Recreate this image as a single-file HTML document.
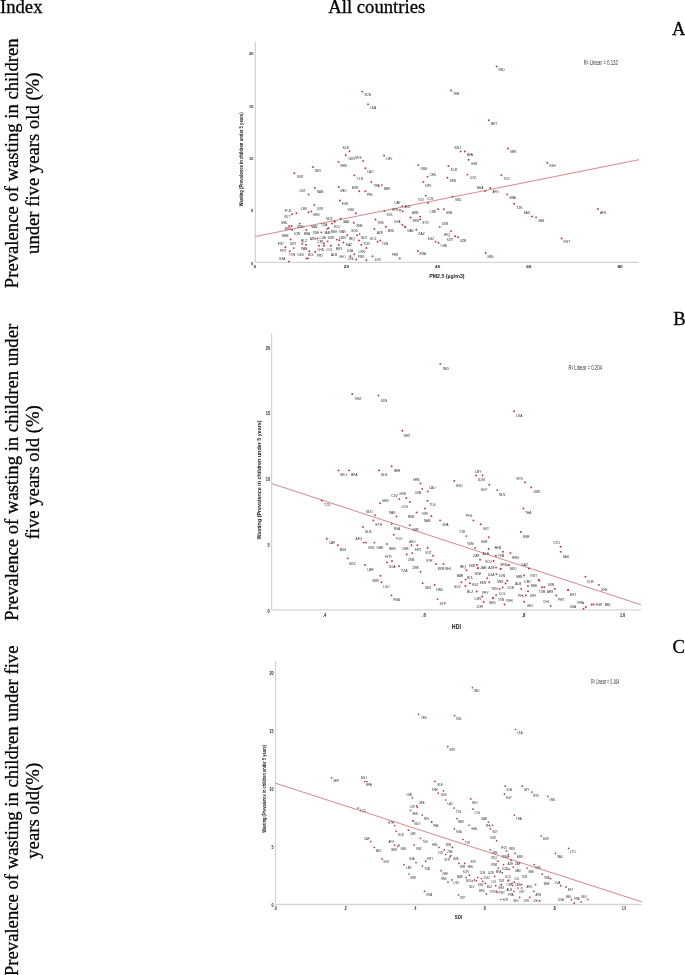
<!DOCTYPE html>
<html><head><meta charset="utf-8"><title>Figure</title>
<style>
html,body{margin:0;padding:0;background:#fff;}
body{width:685px;height:975px;position:relative;overflow:hidden;font-family:"Liberation Serif",serif;}
svg text{font-kerning:normal;}
.serif{font-family:"Liberation Serif",serif;}
.sans{font-family:"Liberation Sans",sans-serif;}
</style></head><body>
<svg width="685" height="975" viewBox="0 0 685 975" style="position:absolute;left:0;top:0;will-change:transform">
<g class="serif" font-size="18.67" fill="#000" stroke="#000" stroke-width="0.28">
<text x="0" y="12.7">Index</text>
<text x="328.3" y="12.7">All countries</text>
<text x="672" y="34.6">A</text>
<text x="673.2" y="324.9">B</text>
<text x="672.6" y="653.3">C</text>
<text x="17.9" y="163.3" text-anchor="middle" transform="rotate(-90 17.9 163.3)">Prevalence of wasting in children</text>
<text x="39.4" y="163.3" text-anchor="middle" transform="rotate(-90 39.4 163.3)">under five years old (%)</text>
<text x="17.9" y="472.3" text-anchor="middle" transform="rotate(-90 17.9 472.3)">Prevalence of wasting in children under</text>
<text x="39.4" y="472.3" text-anchor="middle" transform="rotate(-90 39.4 472.3)">five years old (%)</text>
<text x="17.9" y="810.8" text-anchor="middle" transform="rotate(-90 17.9 810.8)">Prevalence of wasting in children under five</text>
<text x="39.4" y="810.8" text-anchor="middle" transform="rotate(-90 39.4 810.8)">years old(%)</text>
</g>
<g>
<line x1="255.3" y1="41.8" x2="255.3" y2="263.1" stroke="#d4d4d4" stroke-width="1.3"/>
<line x1="254.65" y1="262.3" x2="639" y2="262.3" stroke="#d4d4d4" stroke-width="1.3"/>
</g>
<g>
<line x1="271.6" y1="333" x2="271.6" y2="610.7" stroke="#d4d4d4" stroke-width="1.3"/>
<line x1="270.95" y1="609.9" x2="641" y2="609.9" stroke="#d4d4d4" stroke-width="1.3"/>
</g>
<g>
<line x1="275.5" y1="661" x2="275.5" y2="905.3" stroke="#d4d4d4" stroke-width="1.3"/>
<line x1="274.85" y1="904.5" x2="641.6" y2="904.5" stroke="#d4d4d4" stroke-width="1.3"/>
</g>
<g stroke="#d07a7e" stroke-width="0.9" fill="none">
<line x1="255.3" y1="236.5" x2="639" y2="159.7"/>
<line x1="271.6" y1="483.5" x2="641" y2="604.8"/>
<line x1="275.4" y1="783.2" x2="641.6" y2="901.8"/>
</g>
<g class="sans" font-size="4.2" fill="#262626">
<text transform="translate(364.5 96.38) scale(1 0.85)" textLength="6.3" lengthAdjust="spacingAndGlyphs">SDN</text>
<text transform="translate(370 109.08) scale(1 0.85)" textLength="6.3" lengthAdjust="spacingAndGlyphs">LKA</text>
<text transform="translate(453 95.28) scale(1 0.85)" textLength="6.3" lengthAdjust="spacingAndGlyphs">YEM</text>
<text transform="translate(498.5 70.98) scale(1 0.85)" textLength="6.3" lengthAdjust="spacingAndGlyphs">IND</text>
<text transform="translate(490.8 125.08) scale(1 0.85)" textLength="6.3" lengthAdjust="spacingAndGlyphs">MRT</text>
<text transform="translate(510.2 153.18) scale(1 0.85)" textLength="6.3" lengthAdjust="spacingAndGlyphs">NER</text>
<text transform="translate(454.6 148.97) scale(1 0.85)" textLength="6.3" lengthAdjust="spacingAndGlyphs">MLI</text>
<text transform="translate(466.8 156.18) scale(1 0.85)" textLength="6.3" lengthAdjust="spacingAndGlyphs">BFA</text>
<text transform="translate(342.6 149.28) scale(1 0.85)" textLength="6.3" lengthAdjust="spacingAndGlyphs">SLE</text>
<text transform="translate(348.4 160.28) scale(1 0.85)" textLength="6.3" lengthAdjust="spacingAndGlyphs">GIN</text>
<text transform="translate(340.4 166.58) scale(1 0.85)" textLength="6.3" lengthAdjust="spacingAndGlyphs">KHM</text>
<text transform="translate(314.9 171.97) scale(1 0.85)" textLength="6.3" lengthAdjust="spacingAndGlyphs">MDV</text>
<text transform="translate(297 178.08) scale(1 0.85)" textLength="6.3" lengthAdjust="spacingAndGlyphs">SUR</text>
<text transform="translate(356.7 180.28) scale(1 0.85)" textLength="6.3" lengthAdjust="spacingAndGlyphs">TLS</text>
<text transform="translate(317 192.68) scale(1 0.85)" textLength="6.3" lengthAdjust="spacingAndGlyphs">NAM</text>
<text transform="translate(299.5 192.28) scale(1 0.85)" textLength="6.3" lengthAdjust="spacingAndGlyphs">GUY</text>
<text transform="translate(340.4 191.97) scale(1 0.85)" textLength="6.3" lengthAdjust="spacingAndGlyphs">MEO</text>
<text transform="translate(352 188.97) scale(1 0.85)" textLength="6.3" lengthAdjust="spacingAndGlyphs">ERI</text>
<text transform="translate(366.9 195.97) scale(1 0.85)" textLength="6.3" lengthAdjust="spacingAndGlyphs">PHL</text>
<text transform="translate(355.2 158.78) scale(1 0.85)" textLength="6.3" lengthAdjust="spacingAndGlyphs">MYS</text>
<text transform="translate(386.3 160.28) scale(1 0.85)" textLength="6.3" lengthAdjust="spacingAndGlyphs">LBY</text>
<text transform="translate(367.2 172.97) scale(1 0.85)" textLength="6.3" lengthAdjust="spacingAndGlyphs">LAO</text>
<text transform="translate(373.5 186.68) scale(1 0.85)" textLength="6.3" lengthAdjust="spacingAndGlyphs">TWA</text>
<text transform="translate(383.7 189.78) scale(1 0.85)" textLength="6.3" lengthAdjust="spacingAndGlyphs">MMR</text>
<text transform="translate(420.6 169.78) scale(1 0.85)" textLength="6.3" lengthAdjust="spacingAndGlyphs">GNB</text>
<text transform="translate(429.7 175.78) scale(1 0.85)" textLength="6.3" lengthAdjust="spacingAndGlyphs">CHD</text>
<text transform="translate(425.3 186.78) scale(1 0.85)" textLength="6.3" lengthAdjust="spacingAndGlyphs">NPL</text>
<text transform="translate(417.8 200.68) scale(1 0.85)" textLength="6.3" lengthAdjust="spacingAndGlyphs">TGO</text>
<text transform="translate(427.2 200.18) scale(1 0.85)" textLength="6.3" lengthAdjust="spacingAndGlyphs">COG</text>
<text transform="translate(470.8 164.68) scale(1 0.85)" textLength="6.3" lengthAdjust="spacingAndGlyphs">GGB</text>
<text transform="translate(450.8 170.88) scale(1 0.85)" textLength="6.3" lengthAdjust="spacingAndGlyphs">DJI</text>
<text transform="translate(469.7 179.47) scale(1 0.85)" textLength="6.3" lengthAdjust="spacingAndGlyphs">CIV</text>
<text transform="translate(449.6 182.47) scale(1 0.85)" textLength="6.3" lengthAdjust="spacingAndGlyphs">SEN</text>
<text transform="translate(503.3 180.08) scale(1 0.85)" textLength="6.3" lengthAdjust="spacingAndGlyphs">TCD</text>
<text transform="translate(477 189.18) scale(1 0.85)" textLength="6.3" lengthAdjust="spacingAndGlyphs">BWA</text>
<text transform="translate(492.4 192.68) scale(1 0.85)" textLength="6.3" lengthAdjust="spacingAndGlyphs">AFG</text>
<text transform="translate(509.5 199.28) scale(1 0.85)" textLength="6.3" lengthAdjust="spacingAndGlyphs">MBA</text>
<text transform="translate(455 201.28) scale(1 0.85)" textLength="6.3" lengthAdjust="spacingAndGlyphs">SSD</text>
<text transform="translate(549.3 167.47) scale(1 0.85)" textLength="6.3" lengthAdjust="spacingAndGlyphs">GSH</text>
<text transform="translate(516.2 208.78) scale(1 0.85)" textLength="6.3" lengthAdjust="spacingAndGlyphs">TJK</text>
<text transform="translate(523.8 214.38) scale(1 0.85)" textLength="6.3" lengthAdjust="spacingAndGlyphs">SAU</text>
<text transform="translate(538 222.28) scale(1 0.85)" textLength="6.3" lengthAdjust="spacingAndGlyphs">OMN</text>
<text transform="translate(599.9 214.08) scale(1 0.85)" textLength="6.3" lengthAdjust="spacingAndGlyphs">AFG</text>
<text transform="translate(563.6 243.18) scale(1 0.85)" textLength="6.3" lengthAdjust="spacingAndGlyphs">KWT</text>
<text transform="translate(487.4 257.77) scale(1 0.85)" textLength="6.3" lengthAdjust="spacingAndGlyphs">MNG</text>
<text transform="translate(316.7 209.68) scale(1 0.85)" textLength="6.3" lengthAdjust="spacingAndGlyphs">DUR</text>
<text transform="translate(301 210.28) scale(1 0.85)" textLength="6.3" lengthAdjust="spacingAndGlyphs">LBV</text>
<text transform="translate(313.2 216.18) scale(1 0.85)" textLength="6.3" lengthAdjust="spacingAndGlyphs">KEN</text>
<text transform="translate(285.1 212.28) scale(1 0.85)" textLength="6.3" lengthAdjust="spacingAndGlyphs">FJI</text>
<text transform="translate(284 217.88) scale(1 0.85)" textLength="6.3" lengthAdjust="spacingAndGlyphs">VUT</text>
<text transform="translate(281.3 224.08) scale(1 0.85)" textLength="6.3" lengthAdjust="spacingAndGlyphs">MHL</text>
<text transform="translate(284.8 230.47) scale(1 0.85)" textLength="6.3" lengthAdjust="spacingAndGlyphs">KIR</text>
<text transform="translate(297 228.38) scale(1 0.85)" textLength="6.3" lengthAdjust="spacingAndGlyphs">WSM</text>
<text transform="translate(311 228.08) scale(1 0.85)" textLength="6.3" lengthAdjust="spacingAndGlyphs">NAM</text>
<text transform="translate(294 234.58) scale(1 0.85)" textLength="6.3" lengthAdjust="spacingAndGlyphs">IOW</text>
<text transform="translate(303.8 234.78) scale(1 0.85)" textLength="6.3" lengthAdjust="spacingAndGlyphs">BRA</text>
<text transform="translate(282 237.38) scale(1 0.85)" textLength="6.3" lengthAdjust="spacingAndGlyphs">BHM</text>
<text transform="translate(326.2 219.68) scale(1 0.85)" textLength="6.3" lengthAdjust="spacingAndGlyphs">MOZ</text>
<text transform="translate(321 226.08) scale(1 0.85)" textLength="6.3" lengthAdjust="spacingAndGlyphs">TZA</text>
<text transform="translate(324 233.88) scale(1 0.85)" textLength="6.3" lengthAdjust="spacingAndGlyphs">JAM</text>
<text transform="translate(312.8 233.68) scale(1 0.85)" textLength="6.3" lengthAdjust="spacingAndGlyphs">ZWE</text>
<text transform="translate(319.5 238.58) scale(1 0.85)" textLength="6.3" lengthAdjust="spacingAndGlyphs">CUB</text>
<text transform="translate(310 240.08) scale(1 0.85)" textLength="6.3" lengthAdjust="spacingAndGlyphs">ARG</text>
<text transform="translate(277.8 244.97) scale(1 0.85)" textLength="6.3" lengthAdjust="spacingAndGlyphs">EST</text>
<text transform="translate(290 245.47) scale(1 0.85)" textLength="6.3" lengthAdjust="spacingAndGlyphs">URY</text>
<text transform="translate(280.1 252.28) scale(1 0.85)" textLength="6.3" lengthAdjust="spacingAndGlyphs">PRT</text>
<text transform="translate(288.9 256.07) scale(1 0.85)" textLength="6.3" lengthAdjust="spacingAndGlyphs">TON</text>
<text transform="translate(279 259.57) scale(1 0.85)" textLength="6.3" lengthAdjust="spacingAndGlyphs">USA</text>
<text transform="translate(301 241.78) scale(1 0.85)" textLength="6.3" lengthAdjust="spacingAndGlyphs">BLZ</text>
<text transform="translate(301 249.97) scale(1 0.85)" textLength="6.3" lengthAdjust="spacingAndGlyphs">PAN</text>
<text transform="translate(297.6 256.38) scale(1 0.85)" textLength="6.3" lengthAdjust="spacingAndGlyphs">DEU</text>
<text transform="translate(308 256.38) scale(1 0.85)" textLength="6.3" lengthAdjust="spacingAndGlyphs">BOL</text>
<text transform="translate(317 243.18) scale(1 0.85)" textLength="6.3" lengthAdjust="spacingAndGlyphs">CRI</text>
<text transform="translate(328 239.47) scale(1 0.85)" textLength="6.3" lengthAdjust="spacingAndGlyphs">SWZ</text>
<text transform="translate(317.5 250.78) scale(1 0.85)" textLength="6.3" lengthAdjust="spacingAndGlyphs">CHN</text>
<text transform="translate(326.2 250.78) scale(1 0.85)" textLength="6.3" lengthAdjust="spacingAndGlyphs">COL</text>
<text transform="translate(316.9 256.57) scale(1 0.85)" textLength="6.3" lengthAdjust="spacingAndGlyphs">PRY</text>
<text transform="translate(331 256.27) scale(1 0.85)" textLength="6.3" lengthAdjust="spacingAndGlyphs">ALB</text>
<text transform="translate(341.7 205.08) scale(1 0.85)" textLength="6.3" lengthAdjust="spacingAndGlyphs">EGR</text>
<text transform="translate(347.5 211.08) scale(1 0.85)" textLength="6.3" lengthAdjust="spacingAndGlyphs">VNM</text>
<text transform="translate(342.8 223.38) scale(1 0.85)" textLength="6.3" lengthAdjust="spacingAndGlyphs">GAB</text>
<text transform="translate(334 227.58) scale(1 0.85)" textLength="6.3" lengthAdjust="spacingAndGlyphs">ECU</text>
<text transform="translate(356.3 226.97) scale(1 0.85)" textLength="6.3" lengthAdjust="spacingAndGlyphs">ZMB</text>
<text transform="translate(394.2 203.88) scale(1 0.85)" textLength="6.3" lengthAdjust="spacingAndGlyphs">CAF</text>
<text transform="translate(404.5 207.97) scale(1 0.85)" textLength="6.3" lengthAdjust="spacingAndGlyphs">AGO</text>
<text transform="translate(391.9 211.08) scale(1 0.85)" textLength="6.3" lengthAdjust="spacingAndGlyphs">HON</text>
<text transform="translate(386.6 216.38) scale(1 0.85)" textLength="6.3" lengthAdjust="spacingAndGlyphs">SOL</text>
<text transform="translate(377.3 224.28) scale(1 0.85)" textLength="6.3" lengthAdjust="spacingAndGlyphs">TKM</text>
<text transform="translate(394.2 222.88) scale(1 0.85)" textLength="6.3" lengthAdjust="spacingAndGlyphs">UGA</text>
<text transform="translate(387.8 231.58) scale(1 0.85)" textLength="6.3" lengthAdjust="spacingAndGlyphs">MKD</text>
<text transform="translate(376.7 233.88) scale(1 0.85)" textLength="6.3" lengthAdjust="spacingAndGlyphs">AZE</text>
<text transform="translate(331 233.28) scale(1 0.85)" textLength="6.3" lengthAdjust="spacingAndGlyphs">MNE</text>
<text transform="translate(339.3 233.28) scale(1 0.85)" textLength="6.3" lengthAdjust="spacingAndGlyphs">MAR</text>
<text transform="translate(351.6 232.08) scale(1 0.85)" textLength="6.3" lengthAdjust="spacingAndGlyphs">BGD</text>
<text transform="translate(339.3 238.58) scale(1 0.85)" textLength="6.3" lengthAdjust="spacingAndGlyphs">LBN</text>
<text transform="translate(348.7 240.08) scale(1 0.85)" textLength="6.3" lengthAdjust="spacingAndGlyphs">IRQ</text>
<text transform="translate(361 238.58) scale(1 0.85)" textLength="6.3" lengthAdjust="spacingAndGlyphs">SLV</text>
<text transform="translate(370.3 239.68) scale(1 0.85)" textLength="6.3" lengthAdjust="spacingAndGlyphs">ECL</text>
<text transform="translate(382 245.28) scale(1 0.85)" textLength="6.3" lengthAdjust="spacingAndGlyphs">TUN</text>
<text transform="translate(345.8 246.38) scale(1 0.85)" textLength="6.3" lengthAdjust="spacingAndGlyphs">KAZ</text>
<text transform="translate(363.3 244.97) scale(1 0.85)" textLength="6.3" lengthAdjust="spacingAndGlyphs">TUR</text>
<text transform="translate(335.8 249.68) scale(1 0.85)" textLength="6.3" lengthAdjust="spacingAndGlyphs">MEX</text>
<text transform="translate(346.9 251.97) scale(1 0.85)" textLength="6.3" lengthAdjust="spacingAndGlyphs">DZA</text>
<text transform="translate(358.6 252.78) scale(1 0.85)" textLength="6.3" lengthAdjust="spacingAndGlyphs">LKN</text>
<text transform="translate(339.3 257.57) scale(1 0.85)" textLength="6.3" lengthAdjust="spacingAndGlyphs">GEO</text>
<text transform="translate(348 260.47) scale(1 0.85)" textLength="6.3" lengthAdjust="spacingAndGlyphs">CHL</text>
<text transform="translate(358 258.07) scale(1 0.85)" textLength="6.3" lengthAdjust="spacingAndGlyphs">PRK</text>
<text transform="translate(374.4 260.77) scale(1 0.85)" textLength="6.3" lengthAdjust="spacingAndGlyphs">JOR</text>
<text transform="translate(391.9 256.38) scale(1 0.85)" textLength="6.3" lengthAdjust="spacingAndGlyphs">PER</text>
<text transform="translate(412 214.38) scale(1 0.85)" textLength="6.3" lengthAdjust="spacingAndGlyphs">ARM</text>
<text transform="translate(412.6 221.97) scale(1 0.85)" textLength="6.3" lengthAdjust="spacingAndGlyphs">IRN</text>
<text transform="translate(422.3 224.28) scale(1 0.85)" textLength="6.3" lengthAdjust="spacingAndGlyphs">SYR</text>
<text transform="translate(429.5 212.68) scale(1 0.85)" textLength="6.3" lengthAdjust="spacingAndGlyphs">CRB</text>
<text transform="translate(445.9 213.78) scale(1 0.85)" textLength="6.3" lengthAdjust="spacingAndGlyphs">GNB</text>
<text transform="translate(441.8 224.68) scale(1 0.85)" textLength="6.3" lengthAdjust="spacingAndGlyphs">LBR</text>
<text transform="translate(407.3 231.58) scale(1 0.85)" textLength="6.3" lengthAdjust="spacingAndGlyphs">GAB</text>
<text transform="translate(418.4 234.68) scale(1 0.85)" textLength="6.3" lengthAdjust="spacingAndGlyphs">KAZ</text>
<text transform="translate(427.8 239.68) scale(1 0.85)" textLength="6.3" lengthAdjust="spacingAndGlyphs">KGZ</text>
<text transform="translate(440.6 247.28) scale(1 0.85)" textLength="6.3" lengthAdjust="spacingAndGlyphs">CHN</text>
<text transform="translate(444 235.58) scale(1 0.85)" textLength="6.3" lengthAdjust="spacingAndGlyphs">IRQ</text>
<text transform="translate(447 240.88) scale(1 0.85)" textLength="6.3" lengthAdjust="spacingAndGlyphs">KWT</text>
<text transform="translate(459.9 241.78) scale(1 0.85)" textLength="6.3" lengthAdjust="spacingAndGlyphs">UZB</text>
<text transform="translate(419.6 255.47) scale(1 0.85)" textLength="6.3" lengthAdjust="spacingAndGlyphs">RWA</text>
<text x="442.7" y="369.5" textLength="6.4" lengthAdjust="spacingAndGlyphs">IND</text>
<text x="354.5" y="400.1" textLength="6.4" lengthAdjust="spacingAndGlyphs">YEM</text>
<text x="380.8" y="401.5" textLength="6.4" lengthAdjust="spacingAndGlyphs">SDN</text>
<text x="404" y="436.9" textLength="6.4" lengthAdjust="spacingAndGlyphs">MRT</text>
<text x="516" y="417" textLength="6.4" lengthAdjust="spacingAndGlyphs">LKA</text>
<text x="340.3" y="476.1" textLength="6.4" lengthAdjust="spacingAndGlyphs">MLI</text>
<text x="351" y="476.1" textLength="6.4" lengthAdjust="spacingAndGlyphs">BFA</text>
<text x="381" y="476.1" textLength="6.4" lengthAdjust="spacingAndGlyphs">SLE</text>
<text x="393.9" y="472.2" textLength="6.4" lengthAdjust="spacingAndGlyphs">NER</text>
<text x="412.9" y="480.6" textLength="6.4" lengthAdjust="spacingAndGlyphs">KHM</text>
<text x="415" y="494.3" textLength="6.4" lengthAdjust="spacingAndGlyphs">GIN</text>
<text x="429.2" y="488.7" textLength="6.4" lengthAdjust="spacingAndGlyphs">LAO</text>
<text x="456.2" y="487" textLength="6.4" lengthAdjust="spacingAndGlyphs">BGD</text>
<text x="391.3" y="496.5" textLength="6.4" lengthAdjust="spacingAndGlyphs">CIV</text>
<text x="399.3" y="495.2" textLength="6.4" lengthAdjust="spacingAndGlyphs">GNB</text>
<text x="475" y="472.9" textLength="6.4" lengthAdjust="spacingAndGlyphs">LBY</text>
<text x="478.2" y="481.2" textLength="6.4" lengthAdjust="spacingAndGlyphs">IDN</text>
<text x="481.2" y="490.8" textLength="6.4" lengthAdjust="spacingAndGlyphs">EGY</text>
<text x="499.1" y="496" textLength="6.4" lengthAdjust="spacingAndGlyphs">MDV</text>
<text x="516.5" y="479.7" textLength="6.4" lengthAdjust="spacingAndGlyphs">MYS</text>
<text x="533.3" y="493.2" textLength="6.4" lengthAdjust="spacingAndGlyphs">OMN</text>
<text x="324.1" y="506.3" textLength="6.4" lengthAdjust="spacingAndGlyphs">TCD</text>
<text x="401.6" y="507.5" textLength="6.4" lengthAdjust="spacingAndGlyphs">COG</text>
<text x="382.1" y="502" textLength="6.4" lengthAdjust="spacingAndGlyphs">SEN</text>
<text x="366.3" y="512.5" textLength="6.4" lengthAdjust="spacingAndGlyphs">MDG</text>
<text x="375.6" y="526" textLength="6.4" lengthAdjust="spacingAndGlyphs">ETH</text>
<text x="389.1" y="513.5" textLength="6.4" lengthAdjust="spacingAndGlyphs">PAK</text>
<text x="408" y="518.1" textLength="6.4" lengthAdjust="spacingAndGlyphs">MMR</text>
<text x="393.8" y="530" textLength="6.4" lengthAdjust="spacingAndGlyphs">NGA</text>
<text x="412.2" y="531.2" textLength="6.4" lengthAdjust="spacingAndGlyphs">CMR</text>
<text x="365.1" y="533" textLength="6.4" lengthAdjust="spacingAndGlyphs">SLB</text>
<text x="395.8" y="540.1" textLength="6.4" lengthAdjust="spacingAndGlyphs">TGO</text>
<text x="355.6" y="539.8" textLength="6.4" lengthAdjust="spacingAndGlyphs">AFG</text>
<text x="429.3" y="506.3" textLength="6.4" lengthAdjust="spacingAndGlyphs">TLS</text>
<text x="422.3" y="514.5" textLength="6.4" lengthAdjust="spacingAndGlyphs">NPL</text>
<text x="423.9" y="522.1" textLength="6.4" lengthAdjust="spacingAndGlyphs">NAM</text>
<text x="442.2" y="526" textLength="6.4" lengthAdjust="spacingAndGlyphs">GHA</text>
<text x="466.1" y="517.4" textLength="6.4" lengthAdjust="spacingAndGlyphs">PHL</text>
<text x="482.7" y="530" textLength="6.4" lengthAdjust="spacingAndGlyphs">GUY</text>
<text x="459.1" y="533" textLength="6.4" lengthAdjust="spacingAndGlyphs">TJK</text>
<text x="525.1" y="514.3" textLength="6.4" lengthAdjust="spacingAndGlyphs">THA</text>
<text x="523" y="538" textLength="6.4" lengthAdjust="spacingAndGlyphs">BGR</text>
<text x="328.8" y="544.3" textLength="6.4" lengthAdjust="spacingAndGlyphs">CAF</text>
<text x="339.9" y="551.1" textLength="6.4" lengthAdjust="spacingAndGlyphs">BDI</text>
<text x="368.1" y="548.8" textLength="6.4" lengthAdjust="spacingAndGlyphs">SWZ</text>
<text x="376.5" y="548.8" textLength="6.4" lengthAdjust="spacingAndGlyphs">GMB</text>
<text x="389.1" y="549.8" textLength="6.4" lengthAdjust="spacingAndGlyphs">BEN</text>
<text x="409.2" y="542.6" textLength="6.4" lengthAdjust="spacingAndGlyphs">AGO</text>
<text x="402.2" y="550.4" textLength="6.4" lengthAdjust="spacingAndGlyphs">CMR</text>
<text x="415" y="551.4" textLength="6.4" lengthAdjust="spacingAndGlyphs">HTI</text>
<text x="408.1" y="560.5" textLength="6.4" lengthAdjust="spacingAndGlyphs">ZMB</text>
<text x="349.3" y="564.6" textLength="6.4" lengthAdjust="spacingAndGlyphs">MOZ</text>
<text x="385.3" y="558.4" textLength="6.4" lengthAdjust="spacingAndGlyphs">HTI</text>
<text x="389.1" y="568.1" textLength="6.4" lengthAdjust="spacingAndGlyphs">UGA</text>
<text x="367.2" y="570.6" textLength="6.4" lengthAdjust="spacingAndGlyphs">LBR</text>
<text x="412.2" y="568.9" textLength="6.4" lengthAdjust="spacingAndGlyphs">ZWE</text>
<text x="401" y="571.7" textLength="6.4" lengthAdjust="spacingAndGlyphs">TZA</text>
<text x="481" y="542.9" textLength="6.4" lengthAdjust="spacingAndGlyphs">SUR</text>
<text x="467.3" y="544.9" textLength="6.4" lengthAdjust="spacingAndGlyphs">VNM</text>
<text x="494.7" y="549.3" textLength="6.4" lengthAdjust="spacingAndGlyphs">ARM</text>
<text x="425.3" y="553.7" textLength="6.4" lengthAdjust="spacingAndGlyphs">VUT</text>
<text x="426.1" y="561.6" textLength="6.4" lengthAdjust="spacingAndGlyphs">SYR</text>
<text x="473.1" y="556.8" textLength="6.4" lengthAdjust="spacingAndGlyphs">ZAF</text>
<text x="482.5" y="554.9" textLength="6.4" lengthAdjust="spacingAndGlyphs">ALB</text>
<text x="497.9" y="557.2" textLength="6.4" lengthAdjust="spacingAndGlyphs">TKM</text>
<text x="485.4" y="562.5" textLength="6.4" lengthAdjust="spacingAndGlyphs">ECU</text>
<text x="437.8" y="569.5" textLength="6.4" lengthAdjust="spacingAndGlyphs">KIR</text>
<text x="445.1" y="569.5" textLength="6.4" lengthAdjust="spacingAndGlyphs">MHL</text>
<text x="459.7" y="567.7" textLength="6.4" lengthAdjust="spacingAndGlyphs">IRQ</text>
<text x="468.8" y="566.5" textLength="6.4" lengthAdjust="spacingAndGlyphs">SWB</text>
<text x="480.1" y="568.9" textLength="6.4" lengthAdjust="spacingAndGlyphs">JAM</text>
<text x="488.3" y="568.9" textLength="6.4" lengthAdjust="spacingAndGlyphs">AZE</text>
<text x="553.4" y="544" textLength="6.4" lengthAdjust="spacingAndGlyphs">LTU</text>
<text x="562.7" y="558" textLength="6.4" lengthAdjust="spacingAndGlyphs">SAU</text>
<text x="512.3" y="558.9" textLength="6.4" lengthAdjust="spacingAndGlyphs">IRN</text>
<text x="500.6" y="566.3" textLength="6.4" lengthAdjust="spacingAndGlyphs">BRN</text>
<text x="521.6" y="566" textLength="6.4" lengthAdjust="spacingAndGlyphs">KAZ</text>
<text x="510.1" y="570.2" textLength="6.4" lengthAdjust="spacingAndGlyphs">MKD</text>
<text x="372.5" y="581.5" textLength="6.4" lengthAdjust="spacingAndGlyphs">MWI</text>
<text x="383.2" y="588.1" textLength="6.4" lengthAdjust="spacingAndGlyphs">LSO</text>
<text x="393.5" y="601" textLength="6.4" lengthAdjust="spacingAndGlyphs">RWA</text>
<text x="424.9" y="589" textLength="6.4" lengthAdjust="spacingAndGlyphs">SWZ</text>
<text x="436.6" y="590.8" textLength="6.4" lengthAdjust="spacingAndGlyphs">HND</text>
<text x="439.5" y="604.8" textLength="6.4" lengthAdjust="spacingAndGlyphs">STP</text>
<text x="474.6" y="575.3" textLength="6.4" lengthAdjust="spacingAndGlyphs">WSM</text>
<text x="456.8" y="577" textLength="6.4" lengthAdjust="spacingAndGlyphs">MAR</text>
<text x="467" y="579.3" textLength="6.4" lengthAdjust="spacingAndGlyphs">BOL</text>
<text x="454.1" y="587.9" textLength="6.4" lengthAdjust="spacingAndGlyphs">SLV</text>
<text x="472" y="586" textLength="6.4" lengthAdjust="spacingAndGlyphs">KGZ</text>
<text x="467" y="592.8" textLength="6.4" lengthAdjust="spacingAndGlyphs">BLZ</text>
<text x="479.8" y="583.8" textLength="6.4" lengthAdjust="spacingAndGlyphs">KEN</text>
<text x="488" y="575.8" textLength="6.4" lengthAdjust="spacingAndGlyphs">DZA</text>
<text x="482.2" y="594.2" textLength="6.4" lengthAdjust="spacingAndGlyphs">PRY</text>
<text x="474.6" y="599.8" textLength="6.4" lengthAdjust="spacingAndGlyphs">LBN</text>
<text x="476.3" y="607.6" textLength="6.4" lengthAdjust="spacingAndGlyphs">JOR</text>
<text x="489.2" y="603.6" textLength="6.4" lengthAdjust="spacingAndGlyphs">MNG</text>
<text x="498.8" y="577" textLength="6.4" lengthAdjust="spacingAndGlyphs">DOM</text>
<text x="515.9" y="577.6" textLength="6.4" lengthAdjust="spacingAndGlyphs">SRB</text>
<text x="530.6" y="577" textLength="6.4" lengthAdjust="spacingAndGlyphs">KWT</text>
<text x="497.2" y="583.4" textLength="6.4" lengthAdjust="spacingAndGlyphs">MEX</text>
<text x="514.9" y="584.6" textLength="6.4" lengthAdjust="spacingAndGlyphs">ALB</text>
<text x="524.1" y="583.4" textLength="6.4" lengthAdjust="spacingAndGlyphs">CRI</text>
<text x="530.9" y="586.6" textLength="6.4" lengthAdjust="spacingAndGlyphs">MNE</text>
<text x="538.8" y="593.1" textLength="6.4" lengthAdjust="spacingAndGlyphs">TUR</text>
<text x="547.8" y="586.1" textLength="6.4" lengthAdjust="spacingAndGlyphs">UKR</text>
<text x="547" y="592.8" textLength="6.4" lengthAdjust="spacingAndGlyphs">ARG</text>
<text x="491.2" y="589.9" textLength="6.4" lengthAdjust="spacingAndGlyphs">TUN</text>
<text x="507.3" y="589" textLength="6.4" lengthAdjust="spacingAndGlyphs">CUB</text>
<text x="499.1" y="594.9" textLength="6.4" lengthAdjust="spacingAndGlyphs">COL</text>
<text x="518" y="596.9" textLength="6.4" lengthAdjust="spacingAndGlyphs">PHL</text>
<text x="530" y="597.1" textLength="6.4" lengthAdjust="spacingAndGlyphs">URY</text>
<text x="558.1" y="601" textLength="6.4" lengthAdjust="spacingAndGlyphs">PRT</text>
<text x="497.9" y="601" textLength="6.4" lengthAdjust="spacingAndGlyphs">TON</text>
<text x="506.4" y="601.5" textLength="6.4" lengthAdjust="spacingAndGlyphs">PER</text>
<text x="526.8" y="607.4" textLength="6.4" lengthAdjust="spacingAndGlyphs">GEO</text>
<text x="543.1" y="603.1" textLength="6.4" lengthAdjust="spacingAndGlyphs">CHL</text>
<text x="587.2" y="582.6" textLength="6.4" lengthAdjust="spacingAndGlyphs">KOR</text>
<text x="601" y="590.8" textLength="6.4" lengthAdjust="spacingAndGlyphs">DNK</text>
<text x="569.9" y="595.7" textLength="6.4" lengthAdjust="spacingAndGlyphs">EST</text>
<text x="577.6" y="604.2" textLength="6.4" lengthAdjust="spacingAndGlyphs">FRA</text>
<text x="569.7" y="608" textLength="6.4" lengthAdjust="spacingAndGlyphs">USA</text>
<text x="596" y="606.2" textLength="6.4" lengthAdjust="spacingAndGlyphs">ESP</text>
<text x="604.7" y="606.2" textLength="6.4" lengthAdjust="spacingAndGlyphs">BEL</text>
<text transform="translate(421 718.82) scale(1 0.88)" textLength="5.5" lengthAdjust="spacingAndGlyphs">YEM</text>
<text transform="translate(456 720.02) scale(1 0.88)" textLength="5.5" lengthAdjust="spacingAndGlyphs">SDN</text>
<text transform="translate(449.6 751.32) scale(1 0.88)" textLength="5.5" lengthAdjust="spacingAndGlyphs">MRT</text>
<text transform="translate(474 692.02) scale(1 0.88)" textLength="5.5" lengthAdjust="spacingAndGlyphs">IND</text>
<text transform="translate(517.2 734.02) scale(1 0.88)" textLength="5.5" lengthAdjust="spacingAndGlyphs">LKA</text>
<text transform="translate(333.4 782.32) scale(1 0.88)" textLength="5.5" lengthAdjust="spacingAndGlyphs">NER</text>
<text transform="translate(361.1 779.42) scale(1 0.88)" textLength="5.5" lengthAdjust="spacingAndGlyphs">MLI</text>
<text transform="translate(366.2 785.72) scale(1 0.88)" textLength="5.5" lengthAdjust="spacingAndGlyphs">BFA</text>
<text transform="translate(360.1 812.32) scale(1 0.88)" textLength="5.5" lengthAdjust="spacingAndGlyphs">TCD</text>
<text transform="translate(437.2 786.02) scale(1 0.88)" textLength="5.5" lengthAdjust="spacingAndGlyphs">SLE</text>
<text transform="translate(432 791.12) scale(1 0.88)" textLength="5.5" lengthAdjust="spacingAndGlyphs">KHM</text>
<text transform="translate(441.2 795.52) scale(1 0.88)" textLength="5.5" lengthAdjust="spacingAndGlyphs">BGD</text>
<text transform="translate(447.4 804.52) scale(1 0.88)" textLength="5.5" lengthAdjust="spacingAndGlyphs">LAO</text>
<text transform="translate(455.8 812.62) scale(1 0.88)" textLength="5.5" lengthAdjust="spacingAndGlyphs">TLS</text>
<text transform="translate(458.3 823.12) scale(1 0.88)" textLength="5.5" lengthAdjust="spacingAndGlyphs">MMR</text>
<text transform="translate(406.5 795.92) scale(1 0.88)" textLength="5.5" lengthAdjust="spacingAndGlyphs">GIN</text>
<text transform="translate(418.9 804.02) scale(1 0.88)" textLength="5.5" lengthAdjust="spacingAndGlyphs">GNB</text>
<text transform="translate(409.7 808.22) scale(1 0.88)" textLength="5.5" lengthAdjust="spacingAndGlyphs">CIV</text>
<text transform="translate(412.3 814.82) scale(1 0.88)" textLength="5.5" lengthAdjust="spacingAndGlyphs">SEN</text>
<text transform="translate(424 819.92) scale(1 0.88)" textLength="5.5" lengthAdjust="spacingAndGlyphs">NPL</text>
<text transform="translate(414.5 825.42) scale(1 0.88)" textLength="5.5" lengthAdjust="spacingAndGlyphs">MDG</text>
<text transform="translate(433.2 826.62) scale(1 0.88)" textLength="5.5" lengthAdjust="spacingAndGlyphs">PAK</text>
<text transform="translate(388.5 823.62) scale(1 0.88)" textLength="5.5" lengthAdjust="spacingAndGlyphs">ETH</text>
<text transform="translate(506.6 790.72) scale(1 0.88)" textLength="5.5" lengthAdjust="spacingAndGlyphs">IDN</text>
<text transform="translate(523.7 790.72) scale(1 0.88)" textLength="5.5" lengthAdjust="spacingAndGlyphs">LBY</text>
<text transform="translate(506.2 798.92) scale(1 0.88)" textLength="5.5" lengthAdjust="spacingAndGlyphs">EGY</text>
<text transform="translate(533.3 796.52) scale(1 0.88)" textLength="5.5" lengthAdjust="spacingAndGlyphs">MYS</text>
<text transform="translate(549.4 801.02) scale(1 0.88)" textLength="5.5" lengthAdjust="spacingAndGlyphs">OMN</text>
<text transform="translate(472.3 803.72) scale(1 0.88)" textLength="5.5" lengthAdjust="spacingAndGlyphs">MDV</text>
<text transform="translate(474.5 813.72) scale(1 0.88)" textLength="5.5" lengthAdjust="spacingAndGlyphs">COG</text>
<text transform="translate(516.1 819.62) scale(1 0.88)" textLength="5.5" lengthAdjust="spacingAndGlyphs">THA</text>
<text transform="translate(481.4 820.32) scale(1 0.88)" textLength="5.5" lengthAdjust="spacingAndGlyphs">NAM</text>
<text transform="translate(398.1 835.52) scale(1 0.88)" textLength="5.5" lengthAdjust="spacingAndGlyphs">SLB</text>
<text transform="translate(410.1 834.52) scale(1 0.88)" textLength="5.5" lengthAdjust="spacingAndGlyphs">CMR</text>
<text transform="translate(422.4 842.92) scale(1 0.88)" textLength="5.5" lengthAdjust="spacingAndGlyphs">TGO</text>
<text transform="translate(364 839.82) scale(1 0.88)" textLength="5.5" lengthAdjust="spacingAndGlyphs">CAF</text>
<text transform="translate(375.9 852.02) scale(1 0.88)" textLength="5.5" lengthAdjust="spacingAndGlyphs">BDI</text>
<text transform="translate(388.5 843.32) scale(1 0.88)" textLength="5.5" lengthAdjust="spacingAndGlyphs">AFG</text>
<text transform="translate(391.5 850.82) scale(1 0.88)" textLength="5.5" lengthAdjust="spacingAndGlyphs">BEN</text>
<text transform="translate(400.5 849.72) scale(1 0.88)" textLength="5.5" lengthAdjust="spacingAndGlyphs">GMB</text>
<text transform="translate(416 849.72) scale(1 0.88)" textLength="5.5" lengthAdjust="spacingAndGlyphs">SWZ</text>
<text transform="translate(383.6 863.32) scale(1 0.88)" textLength="5.5" lengthAdjust="spacingAndGlyphs">MOZ</text>
<text transform="translate(409 860.42) scale(1 0.88)" textLength="5.5" lengthAdjust="spacingAndGlyphs">UGA</text>
<text transform="translate(406.1 869.22) scale(1 0.88)" textLength="5.5" lengthAdjust="spacingAndGlyphs">LBR</text>
<text transform="translate(424.2 870.12) scale(1 0.88)" textLength="5.5" lengthAdjust="spacingAndGlyphs">TZA</text>
<text transform="translate(427.3 859.62) scale(1 0.88)" textLength="5.5" lengthAdjust="spacingAndGlyphs">HTI</text>
<text transform="translate(456.3 833.32) scale(1 0.88)" textLength="5.5" lengthAdjust="spacingAndGlyphs">NGA</text>
<text transform="translate(471.1 830.12) scale(1 0.88)" textLength="5.5" lengthAdjust="spacingAndGlyphs">GHA</text>
<text transform="translate(485.7 826.62) scale(1 0.88)" textLength="5.5" lengthAdjust="spacingAndGlyphs">PHL</text>
<text transform="translate(492.2 833.32) scale(1 0.88)" textLength="5.5" lengthAdjust="spacingAndGlyphs">GUY</text>
<text transform="translate(490.2 838.82) scale(1 0.88)" textLength="5.5" lengthAdjust="spacingAndGlyphs">SUR</text>
<text transform="translate(464.7 843.72) scale(1 0.88)" textLength="5.5" lengthAdjust="spacingAndGlyphs">TJK</text>
<text transform="translate(432.2 845.62) scale(1 0.88)" textLength="5.5" lengthAdjust="spacingAndGlyphs">HND</text>
<text transform="translate(445.8 845.62) scale(1 0.88)" textLength="5.5" lengthAdjust="spacingAndGlyphs">KEN</text>
<text transform="translate(437.8 854.02) scale(1 0.88)" textLength="5.5" lengthAdjust="spacingAndGlyphs">VUT</text>
<text transform="translate(447.2 852.62) scale(1 0.88)" textLength="5.5" lengthAdjust="spacingAndGlyphs">ZWE</text>
<text transform="translate(444.3 861.02) scale(1 0.88)" textLength="5.5" lengthAdjust="spacingAndGlyphs">SYR</text>
<text transform="translate(453 859.82) scale(1 0.88)" textLength="5.5" lengthAdjust="spacingAndGlyphs">ZMB</text>
<text transform="translate(470.8 862.82) scale(1 0.88)" textLength="5.5" lengthAdjust="spacingAndGlyphs">KWT</text>
<text transform="translate(491.8 854.32) scale(1 0.88)" textLength="5.5" lengthAdjust="spacingAndGlyphs">VNM</text>
<text transform="translate(491.3 859.32) scale(1 0.88)" textLength="5.5" lengthAdjust="spacingAndGlyphs">IRQ</text>
<text transform="translate(491.3 866.32) scale(1 0.88)" textLength="5.5" lengthAdjust="spacingAndGlyphs">WSM</text>
<text transform="translate(543 840.02) scale(1 0.88)" textLength="5.5" lengthAdjust="spacingAndGlyphs">BGR</text>
<text transform="translate(570.1 853.12) scale(1 0.88)" textLength="5.5" lengthAdjust="spacingAndGlyphs">LTU</text>
<text transform="translate(557.2 857.72) scale(1 0.88)" textLength="5.5" lengthAdjust="spacingAndGlyphs">SAU</text>
<text transform="translate(501.2 849.12) scale(1 0.88)" textLength="5.5" lengthAdjust="spacingAndGlyphs">FJI</text>
<text transform="translate(509.1 850.32) scale(1 0.88)" textLength="5.5" lengthAdjust="spacingAndGlyphs">IRN</text>
<text transform="translate(501.8 858.12) scale(1 0.88)" textLength="5.5" lengthAdjust="spacingAndGlyphs">TKM</text>
<text transform="translate(517 857.72) scale(1 0.88)" textLength="5.5" lengthAdjust="spacingAndGlyphs">ARM</text>
<text transform="translate(515 864.92) scale(1 0.88)" textLength="5.5" lengthAdjust="spacingAndGlyphs">ZAF</text>
<text transform="translate(507.6 865.32) scale(1 0.88)" textLength="5.5" lengthAdjust="spacingAndGlyphs">AZE</text>
<text transform="translate(535.6 869.22) scale(1 0.88)" textLength="5.5" lengthAdjust="spacingAndGlyphs">MKD</text>
<text transform="translate(460 868.32) scale(1 0.88)" textLength="5.5" lengthAdjust="spacingAndGlyphs">KIR</text>
<text transform="translate(468 868.32) scale(1 0.88)" textLength="5.5" lengthAdjust="spacingAndGlyphs">MHL</text>
<text transform="translate(410.5 878.52) scale(1 0.88)" textLength="5.5" lengthAdjust="spacingAndGlyphs">MWI</text>
<text transform="translate(426.5 895.82) scale(1 0.88)" textLength="5.5" lengthAdjust="spacingAndGlyphs">RWA</text>
<text transform="translate(442.3 875.12) scale(1 0.88)" textLength="5.5" lengthAdjust="spacingAndGlyphs">ZWE</text>
<text transform="translate(441.1 880.02) scale(1 0.88)" textLength="5.5" lengthAdjust="spacingAndGlyphs">HND</text>
<text transform="translate(453.6 884.12) scale(1 0.88)" textLength="5.5" lengthAdjust="spacingAndGlyphs">LSO</text>
<text transform="translate(460 899.32) scale(1 0.88)" textLength="5.5" lengthAdjust="spacingAndGlyphs">STP</text>
<text transform="translate(463 873.22) scale(1 0.88)" textLength="5.5" lengthAdjust="spacingAndGlyphs">KOR</text>
<text transform="translate(457.1 878.22) scale(1 0.88)" textLength="5.5" lengthAdjust="spacingAndGlyphs">MAR</text>
<text transform="translate(466.1 882.32) scale(1 0.88)" textLength="5.5" lengthAdjust="spacingAndGlyphs">BOL</text>
<text transform="translate(469.1 887.62) scale(1 0.88)" textLength="5.5" lengthAdjust="spacingAndGlyphs">SLV</text>
<text transform="translate(479.7 873.62) scale(1 0.88)" textLength="5.5" lengthAdjust="spacingAndGlyphs">DOM</text>
<text transform="translate(488.1 873.62) scale(1 0.88)" textLength="5.5" lengthAdjust="spacingAndGlyphs">UZB</text>
<text transform="translate(495.7 873.02) scale(1 0.88)" textLength="5.5" lengthAdjust="spacingAndGlyphs">BRA</text>
<text transform="translate(484.3 878.82) scale(1 0.88)" textLength="5.5" lengthAdjust="spacingAndGlyphs">KGZ</text>
<text transform="translate(478.1 885.52) scale(1 0.88)" textLength="5.5" lengthAdjust="spacingAndGlyphs">SWZ</text>
<text transform="translate(491 883.12) scale(1 0.88)" textLength="5.5" lengthAdjust="spacingAndGlyphs">COL</text>
<text transform="translate(498.6 882.32) scale(1 0.88)" textLength="5.5" lengthAdjust="spacingAndGlyphs">TUR</text>
<text transform="translate(486.7 888.22) scale(1 0.88)" textLength="5.5" lengthAdjust="spacingAndGlyphs">BLZ</text>
<text transform="translate(479 892.02) scale(1 0.88)" textLength="5.5" lengthAdjust="spacingAndGlyphs">MNG</text>
<text transform="translate(489.8 892.82) scale(1 0.88)" textLength="5.5" lengthAdjust="spacingAndGlyphs">TON</text>
<text transform="translate(498.6 889.12) scale(1 0.88)" textLength="5.5" lengthAdjust="spacingAndGlyphs">MEX</text>
<text transform="translate(499.2 893.62) scale(1 0.88)" textLength="5.5" lengthAdjust="spacingAndGlyphs">PRY</text>
<text transform="translate(515 871.82) scale(1 0.88)" textLength="5.5" lengthAdjust="spacingAndGlyphs">JAM</text>
<text transform="translate(502.3 870.42) scale(1 0.88)" textLength="5.5" lengthAdjust="spacingAndGlyphs">DZA</text>
<text transform="translate(528.4 873.02) scale(1 0.88)" textLength="5.5" lengthAdjust="spacingAndGlyphs">MNE</text>
<text transform="translate(505.3 877.72) scale(1 0.88)" textLength="5.5" lengthAdjust="spacingAndGlyphs">ECU</text>
<text transform="translate(521.6 877.92) scale(1 0.88)" textLength="5.5" lengthAdjust="spacingAndGlyphs">TUN</text>
<text transform="translate(544.1 878.62) scale(1 0.88)" textLength="5.5" lengthAdjust="spacingAndGlyphs">SRB</text>
<text transform="translate(554.9 883.72) scale(1 0.88)" textLength="5.5" lengthAdjust="spacingAndGlyphs">LVA</text>
<text transform="translate(567.7 891.42) scale(1 0.88)" textLength="5.5" lengthAdjust="spacingAndGlyphs">EST</text>
<text transform="translate(543.8 884.72) scale(1 0.88)" textLength="5.5" lengthAdjust="spacingAndGlyphs">MNE</text>
<text transform="translate(514 880.02) scale(1 0.88)" textLength="5.5" lengthAdjust="spacingAndGlyphs">COL</text>
<text transform="translate(506.4 886.12) scale(1 0.88)" textLength="5.5" lengthAdjust="spacingAndGlyphs">CRI</text>
<text transform="translate(515.2 886.12) scale(1 0.88)" textLength="5.5" lengthAdjust="spacingAndGlyphs">LBN</text>
<text transform="translate(526.6 887.92) scale(1 0.88)" textLength="5.5" lengthAdjust="spacingAndGlyphs">ARG</text>
<text transform="translate(506.4 891.32) scale(1 0.88)" textLength="5.5" lengthAdjust="spacingAndGlyphs">ALB</text>
<text transform="translate(519.3 892.62) scale(1 0.88)" textLength="5.5" lengthAdjust="spacingAndGlyphs">URY</text>
<text transform="translate(535.6 896.02) scale(1 0.88)" textLength="5.5" lengthAdjust="spacingAndGlyphs">ARM</text>
<text transform="translate(508.2 896.02) scale(1 0.88)" textLength="5.5" lengthAdjust="spacingAndGlyphs">FRA</text>
<text transform="translate(502.9 901.02) scale(1 0.88)" textLength="5.5" lengthAdjust="spacingAndGlyphs">KOR</text>
<text transform="translate(513.1 901.92) scale(1 0.88)" textLength="5.5" lengthAdjust="spacingAndGlyphs">GEO</text>
<text transform="translate(523.4 901.82) scale(1 0.88)" textLength="5.5" lengthAdjust="spacingAndGlyphs">JOR</text>
<text transform="translate(533.3 902.22) scale(1 0.88)" textLength="5.5" lengthAdjust="spacingAndGlyphs">CHL</text>
<text transform="translate(558.2 901.02) scale(1 0.88)" textLength="5.5" lengthAdjust="spacingAndGlyphs">USA</text>
<text transform="translate(566 897.72) scale(1 0.88)" textLength="5.5" lengthAdjust="spacingAndGlyphs">BEL</text>
<text transform="translate(574.2 899.62) scale(1 0.88)" textLength="5.5" lengthAdjust="spacingAndGlyphs">FRA</text>
<text transform="translate(581.1 897.92) scale(1 0.88)" textLength="5.5" lengthAdjust="spacingAndGlyphs">DEU</text>
</g>
<g fill="#c0343c">
<circle cx="362.2" cy="91.6" r="0.95"/>
<circle cx="368" cy="104.2" r="0.95"/>
<circle cx="451.2" cy="90.5" r="0.95"/>
<circle cx="496.6" cy="66.5" r="0.95"/>
<circle cx="488.8" cy="120.2" r="0.95"/>
<circle cx="508" cy="148.5" r="0.95"/>
<circle cx="460.6" cy="151.5" r="0.95"/>
<circle cx="464.8" cy="151.5" r="0.95"/>
<circle cx="349.5" cy="151.3" r="0.95"/>
<circle cx="345.8" cy="155.3" r="0.95"/>
<circle cx="338.5" cy="161.9" r="0.95"/>
<circle cx="313" cy="167" r="0.95"/>
<circle cx="294.4" cy="173.3" r="0.95"/>
<circle cx="354.4" cy="175.4" r="0.95"/>
<circle cx="314.9" cy="187.9" r="0.95"/>
<circle cx="308.6" cy="194.5" r="0.95"/>
<circle cx="338.8" cy="187" r="0.95"/>
<circle cx="359.3" cy="191.2" r="0.95"/>
<circle cx="365.4" cy="191.2" r="0.95"/>
<circle cx="363.2" cy="160.9" r="0.95"/>
<circle cx="384.1" cy="155.5" r="0.95"/>
<circle cx="365.4" cy="168.2" r="0.95"/>
<circle cx="371.3" cy="181.9" r="0.95"/>
<circle cx="381.8" cy="185.1" r="0.95"/>
<circle cx="418.3" cy="165.1" r="0.95"/>
<circle cx="427.5" cy="176.6" r="0.95"/>
<circle cx="423.4" cy="181.9" r="0.95"/>
<circle cx="425.8" cy="195.6" r="0.95"/>
<circle cx="428.1" cy="202.9" r="0.95"/>
<circle cx="468.6" cy="159.7" r="0.95"/>
<circle cx="448.4" cy="166" r="0.95"/>
<circle cx="467.4" cy="174.6" r="0.95"/>
<circle cx="447.4" cy="177.7" r="0.95"/>
<circle cx="501.4" cy="175.3" r="0.95"/>
<circle cx="490.2" cy="187.9" r="0.95"/>
<circle cx="485.1" cy="191.1" r="0.95"/>
<circle cx="507.3" cy="194.5" r="0.95"/>
<circle cx="452.4" cy="196.6" r="0.95"/>
<circle cx="547.3" cy="162.8" r="0.95"/>
<circle cx="514.1" cy="203.8" r="0.95"/>
<circle cx="532" cy="216.5" r="0.95"/>
<circle cx="536.1" cy="217.4" r="0.95"/>
<circle cx="598" cy="209" r="0.95"/>
<circle cx="561.6" cy="238.4" r="0.95"/>
<circle cx="485.7" cy="253" r="0.95"/>
<circle cx="314.3" cy="204.9" r="0.95"/>
<circle cx="308.5" cy="212.3" r="0.95"/>
<circle cx="311.3" cy="211.4" r="0.95"/>
<circle cx="292.1" cy="214.3" r="0.95"/>
<circle cx="296.5" cy="213.3" r="0.95"/>
<circle cx="289.2" cy="226" r="0.95"/>
<circle cx="291.6" cy="226" r="0.95"/>
<circle cx="292.1" cy="229.8" r="0.95"/>
<circle cx="299.7" cy="223.6" r="0.95"/>
<circle cx="306.4" cy="230" r="0.95"/>
<circle cx="290.6" cy="239.4" r="0.95"/>
<circle cx="334.4" cy="221.5" r="0.95"/>
<circle cx="332.1" cy="223.6" r="0.95"/>
<circle cx="327.4" cy="228.9" r="0.95"/>
<circle cx="328.6" cy="228.1" r="0.95"/>
<circle cx="321.3" cy="232.4" r="0.95"/>
<circle cx="317.5" cy="238.4" r="0.95"/>
<circle cx="285.4" cy="247.2" r="0.95"/>
<circle cx="293.8" cy="248.1" r="0.95"/>
<circle cx="289.8" cy="251.3" r="0.95"/>
<circle cx="288.9" cy="261.5" r="0.95"/>
<circle cx="302.3" cy="243.8" r="0.95"/>
<circle cx="306" cy="244.8" r="0.95"/>
<circle cx="309.3" cy="251.3" r="0.95"/>
<circle cx="306.4" cy="258.4" r="0.95"/>
<circle cx="308.1" cy="258.4" r="0.95"/>
<circle cx="315.1" cy="252" r="0.95"/>
<circle cx="319" cy="245.8" r="0.95"/>
<circle cx="323.9" cy="243.4" r="0.95"/>
<circle cx="323.9" cy="245.8" r="0.95"/>
<circle cx="327.6" cy="241.4" r="0.95"/>
<circle cx="330.9" cy="245.8" r="0.95"/>
<circle cx="339.9" cy="200.5" r="0.95"/>
<circle cx="355.9" cy="213.3" r="0.95"/>
<circle cx="340.7" cy="218.7" r="0.95"/>
<circle cx="334.7" cy="221.6" r="0.95"/>
<circle cx="354" cy="222.8" r="0.95"/>
<circle cx="402.2" cy="206.1" r="0.95"/>
<circle cx="384.3" cy="211.1" r="0.95"/>
<circle cx="400" cy="210.2" r="0.95"/>
<circle cx="402.6" cy="211.4" r="0.95"/>
<circle cx="375.5" cy="219.5" r="0.95"/>
<circle cx="402.4" cy="224.8" r="0.95"/>
<circle cx="404.7" cy="226.8" r="0.95"/>
<circle cx="385.8" cy="226.8" r="0.95"/>
<circle cx="374.4" cy="228.9" r="0.95"/>
<circle cx="356.9" cy="235.3" r="0.95"/>
<circle cx="359.5" cy="234.1" r="0.95"/>
<circle cx="347.3" cy="235.3" r="0.95"/>
<circle cx="336.8" cy="239.6" r="0.95"/>
<circle cx="339.3" cy="240.2" r="0.95"/>
<circle cx="359" cy="240.4" r="0.95"/>
<circle cx="377.6" cy="241.7" r="0.95"/>
<circle cx="380.2" cy="240.5" r="0.95"/>
<circle cx="343.4" cy="242.5" r="0.95"/>
<circle cx="338.8" cy="244.9" r="0.95"/>
<circle cx="361.3" cy="244.9" r="0.95"/>
<circle cx="366.4" cy="248" r="0.95"/>
<circle cx="354.3" cy="254.2" r="0.95"/>
<circle cx="350.4" cy="256.3" r="0.95"/>
<circle cx="356.3" cy="259.5" r="0.95"/>
<circle cx="366.4" cy="260.3" r="0.95"/>
<circle cx="372.6" cy="256.3" r="0.95"/>
<circle cx="399.8" cy="258.5" r="0.95"/>
<circle cx="410.6" cy="217.5" r="0.95"/>
<circle cx="420.2" cy="216.6" r="0.95"/>
<circle cx="420.2" cy="219.5" r="0.95"/>
<circle cx="438" cy="209.2" r="0.95"/>
<circle cx="443.9" cy="209.2" r="0.95"/>
<circle cx="439.7" cy="226.9" r="0.95"/>
<circle cx="405.4" cy="226.9" r="0.95"/>
<circle cx="416.3" cy="229.8" r="0.95"/>
<circle cx="435.6" cy="241.6" r="0.95"/>
<circle cx="438.5" cy="242.8" r="0.95"/>
<circle cx="451.1" cy="231.1" r="0.95"/>
<circle cx="455.2" cy="236.3" r="0.95"/>
<circle cx="458.1" cy="237.3" r="0.95"/>
<circle cx="417.8" cy="251" r="0.95"/>
<circle cx="440.3" cy="363.9" r="0.95"/>
<circle cx="352.2" cy="394" r="0.95"/>
<circle cx="378.4" cy="395.4" r="0.95"/>
<circle cx="402.4" cy="430.7" r="0.95"/>
<circle cx="514" cy="411.2" r="0.95"/>
<circle cx="338.6" cy="470.4" r="0.95"/>
<circle cx="349.1" cy="470.4" r="0.95"/>
<circle cx="378.9" cy="470.4" r="0.95"/>
<circle cx="391.7" cy="466.3" r="0.95"/>
<circle cx="420.5" cy="483.5" r="0.95"/>
<circle cx="422.2" cy="488.9" r="0.95"/>
<circle cx="427.8" cy="491.4" r="0.95"/>
<circle cx="454.3" cy="480.9" r="0.95"/>
<circle cx="399.3" cy="499.1" r="0.95"/>
<circle cx="406.3" cy="498" r="0.95"/>
<circle cx="476.1" cy="475.5" r="0.95"/>
<circle cx="482.6" cy="475.5" r="0.95"/>
<circle cx="489.2" cy="484.8" r="0.95"/>
<circle cx="497.2" cy="490.1" r="0.95"/>
<circle cx="525" cy="482.3" r="0.95"/>
<circle cx="531.2" cy="487.4" r="0.95"/>
<circle cx="321.8" cy="500.5" r="0.95"/>
<circle cx="409.8" cy="501.9" r="0.95"/>
<circle cx="380" cy="503.2" r="0.95"/>
<circle cx="375.1" cy="515.1" r="0.95"/>
<circle cx="373.4" cy="520.4" r="0.95"/>
<circle cx="396.4" cy="516.5" r="0.95"/>
<circle cx="416.6" cy="512.4" r="0.95"/>
<circle cx="425" cy="508.5" r="0.95"/>
<circle cx="391.7" cy="524.1" r="0.95"/>
<circle cx="409.8" cy="525.3" r="0.95"/>
<circle cx="362.9" cy="526.9" r="0.95"/>
<circle cx="393.8" cy="534.7" r="0.95"/>
<circle cx="427.6" cy="500.7" r="0.95"/>
<circle cx="431.4" cy="516.3" r="0.95"/>
<circle cx="440.1" cy="520.4" r="0.95"/>
<circle cx="473.4" cy="520.4" r="0.95"/>
<circle cx="480.7" cy="524.2" r="0.95"/>
<circle cx="466.4" cy="536.1" r="0.95"/>
<circle cx="488.7" cy="537.3" r="0.95"/>
<circle cx="523.4" cy="508.5" r="0.95"/>
<circle cx="520.9" cy="532" r="0.95"/>
<circle cx="326.8" cy="538.7" r="0.95"/>
<circle cx="337.8" cy="545.3" r="0.95"/>
<circle cx="347.7" cy="558.4" r="0.95"/>
<circle cx="363.7" cy="542.6" r="0.95"/>
<circle cx="366" cy="542.6" r="0.95"/>
<circle cx="374.4" cy="542.6" r="0.95"/>
<circle cx="387" cy="544" r="0.95"/>
<circle cx="411.6" cy="545.2" r="0.95"/>
<circle cx="417.4" cy="545.2" r="0.95"/>
<circle cx="406.7" cy="554.5" r="0.95"/>
<circle cx="412.2" cy="553.1" r="0.95"/>
<circle cx="387" cy="562.4" r="0.95"/>
<circle cx="392" cy="561" r="0.95"/>
<circle cx="399" cy="566.2" r="0.95"/>
<circle cx="365.1" cy="565" r="0.95"/>
<circle cx="475.1" cy="547.9" r="0.95"/>
<circle cx="488.7" cy="549" r="0.95"/>
<circle cx="427.6" cy="547.8" r="0.95"/>
<circle cx="433.1" cy="555.7" r="0.95"/>
<circle cx="480.1" cy="559.8" r="0.95"/>
<circle cx="495.9" cy="555.7" r="0.95"/>
<circle cx="493.6" cy="561" r="0.95"/>
<circle cx="436.1" cy="563.9" r="0.95"/>
<circle cx="443.4" cy="563.9" r="0.95"/>
<circle cx="476.9" cy="565" r="0.95"/>
<circle cx="477.8" cy="568.3" r="0.95"/>
<circle cx="496.1" cy="567.6" r="0.95"/>
<circle cx="560.6" cy="546.7" r="0.95"/>
<circle cx="560.6" cy="551.8" r="0.95"/>
<circle cx="502.9" cy="551.8" r="0.95"/>
<circle cx="510.4" cy="553" r="0.95"/>
<circle cx="508.7" cy="564.8" r="0.95"/>
<circle cx="528.9" cy="568.5" r="0.95"/>
<circle cx="500.6" cy="568.8" r="0.95"/>
<circle cx="380.5" cy="575.7" r="0.95"/>
<circle cx="381.5" cy="582.3" r="0.95"/>
<circle cx="391.4" cy="595.4" r="0.95"/>
<circle cx="420.6" cy="571.7" r="0.95"/>
<circle cx="422.6" cy="583.3" r="0.95"/>
<circle cx="434.6" cy="584.9" r="0.95"/>
<circle cx="437.5" cy="599.1" r="0.95"/>
<circle cx="466.6" cy="570.3" r="0.95"/>
<circle cx="478.1" cy="567.9" r="0.95"/>
<circle cx="465.5" cy="579.6" r="0.95"/>
<circle cx="461.4" cy="582.3" r="0.95"/>
<circle cx="465.5" cy="586" r="0.95"/>
<circle cx="469.9" cy="583.3" r="0.95"/>
<circle cx="476.7" cy="591.5" r="0.95"/>
<circle cx="487.2" cy="578.1" r="0.95"/>
<circle cx="489.2" cy="582.3" r="0.95"/>
<circle cx="482.2" cy="596.5" r="0.95"/>
<circle cx="483.7" cy="602" r="0.95"/>
<circle cx="493" cy="597.9" r="0.95"/>
<circle cx="500.7" cy="569.1" r="0.95"/>
<circle cx="508.5" cy="565.4" r="0.95"/>
<circle cx="496.4" cy="574.1" r="0.95"/>
<circle cx="524.2" cy="575.5" r="0.95"/>
<circle cx="538.5" cy="579.6" r="0.95"/>
<circle cx="539.3" cy="580.8" r="0.95"/>
<circle cx="507.3" cy="580.8" r="0.95"/>
<circle cx="505.5" cy="583.5" r="0.95"/>
<circle cx="528" cy="586" r="0.95"/>
<circle cx="542" cy="587.2" r="0.95"/>
<circle cx="544.3" cy="587.2" r="0.95"/>
<circle cx="554.8" cy="588.9" r="0.95"/>
<circle cx="568" cy="589.9" r="0.95"/>
<circle cx="499.6" cy="588.9" r="0.95"/>
<circle cx="502.6" cy="587.4" r="0.95"/>
<circle cx="521.3" cy="588.9" r="0.95"/>
<circle cx="496.1" cy="595.1" r="0.95"/>
<circle cx="492.9" cy="598.1" r="0.95"/>
<circle cx="528" cy="591.3" r="0.95"/>
<circle cx="525.9" cy="595.4" r="0.95"/>
<circle cx="556.2" cy="595.4" r="0.95"/>
<circle cx="504.6" cy="604.5" r="0.95"/>
<circle cx="524.2" cy="601.8" r="0.95"/>
<circle cx="550.7" cy="605.9" r="0.95"/>
<circle cx="585.4" cy="576.7" r="0.95"/>
<circle cx="598.9" cy="584.9" r="0.95"/>
<circle cx="568.2" cy="589.9" r="0.95"/>
<circle cx="583.5" cy="608.8" r="0.95"/>
<circle cx="585.8" cy="607" r="0.95"/>
<circle cx="591.6" cy="604.5" r="0.95"/>
<circle cx="593.6" cy="604.5" r="0.95"/>
<circle cx="418.6" cy="714.3" r="0.85"/>
<circle cx="454.6" cy="715.5" r="0.85"/>
<circle cx="447.8" cy="746.7" r="0.85"/>
<circle cx="472.4" cy="687.7" r="0.85"/>
<circle cx="515.5" cy="729.5" r="0.85"/>
<circle cx="331.6" cy="777.8" r="0.85"/>
<circle cx="364.8" cy="781.5" r="0.85"/>
<circle cx="367" cy="781.5" r="0.85"/>
<circle cx="358.2" cy="808.1" r="0.85"/>
<circle cx="435" cy="781.4" r="0.85"/>
<circle cx="438.3" cy="793.2" r="0.85"/>
<circle cx="443.4" cy="790.8" r="0.85"/>
<circle cx="445.9" cy="800" r="0.85"/>
<circle cx="454.2" cy="808.1" r="0.85"/>
<circle cx="456.9" cy="818.6" r="0.85"/>
<circle cx="412.3" cy="797.8" r="0.85"/>
<circle cx="416.7" cy="805.9" r="0.85"/>
<circle cx="417.4" cy="807.3" r="0.85"/>
<circle cx="410.6" cy="810.5" r="0.85"/>
<circle cx="422.3" cy="815.1" r="0.85"/>
<circle cx="413.1" cy="820.8" r="0.85"/>
<circle cx="431.6" cy="821.9" r="0.85"/>
<circle cx="505.1" cy="786.2" r="0.85"/>
<circle cx="522.2" cy="786.2" r="0.85"/>
<circle cx="504.4" cy="794.2" r="0.85"/>
<circle cx="531.9" cy="792" r="0.85"/>
<circle cx="547.9" cy="796.4" r="0.85"/>
<circle cx="470.8" cy="798.9" r="0.85"/>
<circle cx="473" cy="809.2" r="0.85"/>
<circle cx="514.3" cy="815.1" r="0.85"/>
<circle cx="488.4" cy="822.2" r="0.85"/>
<circle cx="394.7" cy="825.5" r="0.85"/>
<circle cx="413.4" cy="821" r="0.85"/>
<circle cx="396.1" cy="831.3" r="0.85"/>
<circle cx="408.4" cy="830.2" r="0.85"/>
<circle cx="420.4" cy="838.3" r="0.85"/>
<circle cx="370.8" cy="841.6" r="0.85"/>
<circle cx="374.2" cy="847.4" r="0.85"/>
<circle cx="394.7" cy="845.1" r="0.85"/>
<circle cx="397.9" cy="846.3" r="0.85"/>
<circle cx="399" cy="845.1" r="0.85"/>
<circle cx="414.2" cy="845.1" r="0.85"/>
<circle cx="382.1" cy="858.9" r="0.85"/>
<circle cx="416" cy="862.6" r="0.85"/>
<circle cx="404" cy="864.7" r="0.85"/>
<circle cx="422.4" cy="866.1" r="0.85"/>
<circle cx="425.7" cy="861.2" r="0.85"/>
<circle cx="431.7" cy="822" r="0.85"/>
<circle cx="454.4" cy="828.8" r="0.85"/>
<circle cx="469.1" cy="825.3" r="0.85"/>
<circle cx="492.4" cy="825.3" r="0.85"/>
<circle cx="490.4" cy="828.8" r="0.85"/>
<circle cx="496.6" cy="840.7" r="0.85"/>
<circle cx="463" cy="839.3" r="0.85"/>
<circle cx="439" cy="847.4" r="0.85"/>
<circle cx="444.3" cy="849.8" r="0.85"/>
<circle cx="452.4" cy="847.4" r="0.85"/>
<circle cx="445.8" cy="854.5" r="0.85"/>
<circle cx="450.1" cy="856.8" r="0.85"/>
<circle cx="450.9" cy="855.6" r="0.85"/>
<circle cx="458.9" cy="863.4" r="0.85"/>
<circle cx="464.7" cy="863.4" r="0.85"/>
<circle cx="490.2" cy="849.8" r="0.85"/>
<circle cx="498" cy="861.2" r="0.85"/>
<circle cx="498.3" cy="868.1" r="0.85"/>
<circle cx="503.5" cy="864.6" r="0.85"/>
<circle cx="541.1" cy="835.8" r="0.85"/>
<circle cx="568.7" cy="848.4" r="0.85"/>
<circle cx="555.5" cy="853.3" r="0.85"/>
<circle cx="506.4" cy="851" r="0.85"/>
<circle cx="515.2" cy="853.3" r="0.85"/>
<circle cx="508.4" cy="854.5" r="0.85"/>
<circle cx="508.4" cy="856.4" r="0.85"/>
<circle cx="511.3" cy="860.3" r="0.85"/>
<circle cx="513.2" cy="867.1" r="0.85"/>
<circle cx="527.2" cy="868.1" r="0.85"/>
<circle cx="534.2" cy="864.6" r="0.85"/>
<circle cx="509.1" cy="869.3" r="0.85"/>
<circle cx="409" cy="874" r="0.85"/>
<circle cx="424.5" cy="891.3" r="0.85"/>
<circle cx="441.1" cy="870.7" r="0.85"/>
<circle cx="448" cy="882.2" r="0.85"/>
<circle cx="451.9" cy="879.9" r="0.85"/>
<circle cx="458.5" cy="894.8" r="0.85"/>
<circle cx="469.4" cy="875.2" r="0.85"/>
<circle cx="466.1" cy="877.5" r="0.85"/>
<circle cx="472.3" cy="881" r="0.85"/>
<circle cx="474.6" cy="879.9" r="0.85"/>
<circle cx="476.4" cy="880.8" r="0.85"/>
<circle cx="477.8" cy="877.5" r="0.85"/>
<circle cx="481.4" cy="878.5" r="0.85"/>
<circle cx="482.8" cy="881.3" r="0.85"/>
<circle cx="485.4" cy="883.4" r="0.85"/>
<circle cx="494.8" cy="876.4" r="0.85"/>
<circle cx="495.7" cy="885.7" r="0.85"/>
<circle cx="486.3" cy="893.9" r="0.85"/>
<circle cx="496.5" cy="891.3" r="0.85"/>
<circle cx="497.4" cy="892.5" r="0.85"/>
<circle cx="501.1" cy="884.5" r="0.85"/>
<circle cx="500.9" cy="899.5" r="0.85"/>
<circle cx="502.3" cy="872.8" r="0.85"/>
<circle cx="542.3" cy="874.2" r="0.85"/>
<circle cx="550.5" cy="878.7" r="0.85"/>
<circle cx="560.7" cy="885.7" r="0.85"/>
<circle cx="566" cy="886.9" r="0.85"/>
<circle cx="507.9" cy="881" r="0.85"/>
<circle cx="508.8" cy="880.1" r="0.85"/>
<circle cx="512" cy="883.4" r="0.85"/>
<circle cx="514.2" cy="882.2" r="0.85"/>
<circle cx="512.6" cy="885.5" r="0.85"/>
<circle cx="501.4" cy="884.5" r="0.85"/>
<circle cx="521.6" cy="884.5" r="0.85"/>
<circle cx="517.8" cy="888" r="0.85"/>
<circle cx="521.6" cy="888" r="0.85"/>
<circle cx="535.6" cy="884.5" r="0.85"/>
<circle cx="514" cy="891.3" r="0.85"/>
<circle cx="533.9" cy="891.3" r="0.85"/>
<circle cx="519.6" cy="897.4" r="0.85"/>
<circle cx="529.8" cy="897.4" r="0.85"/>
<circle cx="539.7" cy="900.9" r="0.85"/>
<circle cx="571.5" cy="899.7" r="0.85"/>
<circle cx="574.2" cy="903.2" r="0.85"/>
<circle cx="587.8" cy="899.5" r="0.85"/>
<circle cx="581.1" cy="901.8" r="0.85"/>
</g>
<g class="sans" font-size="6" font-weight="bold" fill="#222" text-anchor="middle">
<text transform="translate(252.2 264.55) scale(1 0.72)" x="0" y="0" textLength="2.2" lengthAdjust="spacingAndGlyphs">0</text>
<text transform="translate(252.2 212.35) scale(1 0.72)" x="0" y="0" textLength="2.2" lengthAdjust="spacingAndGlyphs">5</text>
<text transform="translate(251.2 159.85) scale(1 0.72)" x="0" y="0" textLength="4.4" lengthAdjust="spacingAndGlyphs">10</text>
<text transform="translate(251.2 107.75) scale(1 0.72)" x="0" y="0" textLength="4.4" lengthAdjust="spacingAndGlyphs">15</text>
<text transform="translate(251.2 54.85) scale(1 0.72)" x="0" y="0" textLength="4.4" lengthAdjust="spacingAndGlyphs">20</text>
<text transform="translate(254.8 268.05) scale(1 0.72)" x="0" y="0" textLength="2.6" lengthAdjust="spacingAndGlyphs">0</text>
<text transform="translate(346.4 268.05) scale(1 0.72)" x="0" y="0" textLength="5.2" lengthAdjust="spacingAndGlyphs">20</text>
<text transform="translate(437.7 268.05) scale(1 0.72)" x="0" y="0" textLength="5.2" lengthAdjust="spacingAndGlyphs">40</text>
<text transform="translate(528.8 268.05) scale(1 0.72)" x="0" y="0" textLength="5.2" lengthAdjust="spacingAndGlyphs">60</text>
<text transform="translate(620.1 268.05) scale(1 0.72)" x="0" y="0" textLength="5.2" lengthAdjust="spacingAndGlyphs">80</text>
<text x="268.6" y="612.65" textLength="2.15" lengthAdjust="spacingAndGlyphs">0</text>
<text x="268.6" y="546.55" textLength="2.15" lengthAdjust="spacingAndGlyphs">5</text>
<text x="267.9" y="481.05" textLength="4.3" lengthAdjust="spacingAndGlyphs">10</text>
<text x="267.9" y="414.95" textLength="4.3" lengthAdjust="spacingAndGlyphs">15</text>
<text x="267.9" y="349.85" textLength="4.3" lengthAdjust="spacingAndGlyphs">20</text>
<text x="324.6" y="617.05" textLength="3.5" lengthAdjust="spacingAndGlyphs">.4</text>
<text x="424" y="617.05" textLength="3.5" lengthAdjust="spacingAndGlyphs">.6</text>
<text x="523.6" y="617.05" textLength="3.5" lengthAdjust="spacingAndGlyphs">.8</text>
<text x="622.6" y="617.05" textLength="5.25" lengthAdjust="spacingAndGlyphs">1.0</text>
<text x="272.4" y="906.95" textLength="2.0" lengthAdjust="spacingAndGlyphs">0</text>
<text x="272.4" y="848.85" textLength="2.0" lengthAdjust="spacingAndGlyphs">5</text>
<text x="271.6" y="790.85" textLength="4.0" lengthAdjust="spacingAndGlyphs">10</text>
<text x="271.6" y="733.15" textLength="4.0" lengthAdjust="spacingAndGlyphs">15</text>
<text x="271.6" y="675.15" textLength="4.0" lengthAdjust="spacingAndGlyphs">20</text>
<text x="275.5" y="910.05" textLength="2.8" lengthAdjust="spacingAndGlyphs">.0</text>
<text x="345.2" y="910.05" textLength="2.8" lengthAdjust="spacingAndGlyphs">.2</text>
<text x="414.9" y="910.05" textLength="2.8" lengthAdjust="spacingAndGlyphs">.4</text>
<text x="484.6" y="910.05" textLength="2.8" lengthAdjust="spacingAndGlyphs">.6</text>
<text x="554.3" y="910.05" textLength="2.8" lengthAdjust="spacingAndGlyphs">.8</text>
<text x="624" y="910.05" textLength="4.199999999999999" lengthAdjust="spacingAndGlyphs">1.0</text>
</g>
<g class="sans" font-weight="bold" fill="#222" text-anchor="middle">
<text x="446.9" y="277.8" font-size="5.2" textLength="35.4" lengthAdjust="spacingAndGlyphs">PM2.5 (µg/m3)</text>
<text x="456.4" y="628.9" font-size="6.6" textLength="9.1" lengthAdjust="spacingAndGlyphs">HDI</text>
<text x="458.5" y="919.1" font-size="5.9" textLength="7.4" lengthAdjust="spacingAndGlyphs">SDI</text>
</g>
<g class="sans" font-weight="bold" fill="#222" text-anchor="middle" font-size="5.6">
<text x="243.4" y="159.4" transform="rotate(-90 243.4 159.4)" textLength="94" lengthAdjust="spacingAndGlyphs">Wasting (Prevalence in children under 5 years)</text>
<text x="261.0" y="480" transform="rotate(-90 261.0 480)" textLength="119" lengthAdjust="spacingAndGlyphs">Wasting (Prevalence in children under 5 years)</text>
<text x="266.2" y="788.9" transform="rotate(-90 266.2 788.9)" textLength="87.7" lengthAdjust="spacingAndGlyphs">Wasting (Prevalence in children under 5 years)</text>
</g>
<g class="sans" fill="#333" font-size="6.4">
<text x="583.8" y="65.2" textLength="34.2" lengthAdjust="spacingAndGlyphs">R² Linear = 0.132</text>
<text x="568.6" y="369.5" textLength="33.4" lengthAdjust="spacingAndGlyphs">R² Linear = 0.204</text>
<text x="591" y="684.2" textLength="28.4" lengthAdjust="spacingAndGlyphs">R² Linear = 0.164</text>
</g>
</svg>
</body></html>
